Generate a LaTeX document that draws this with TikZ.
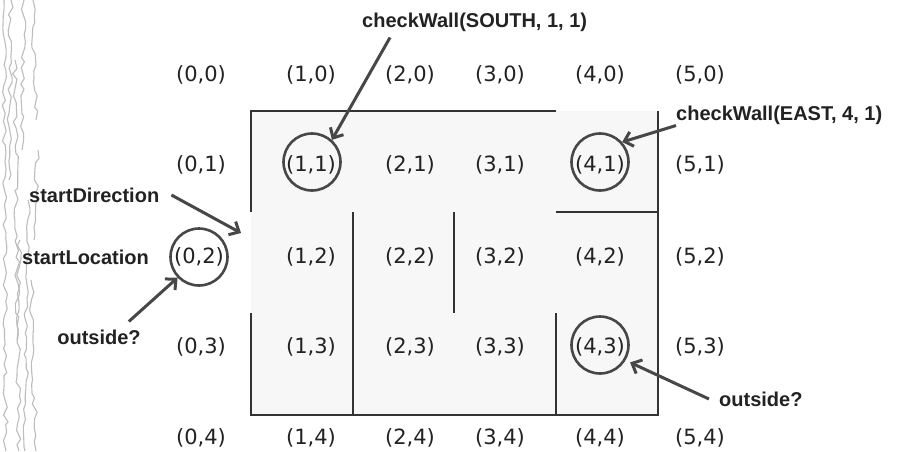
\documentclass[tikz,border=0pt]{standalone}
\usepackage{fontspec}
\setmainfont{DejaVu Sans}
\newfontfamily\notefont{Liberation Sans}
\usepackage{tikz}
\usetikzlibrary{arrows.meta,decorations.pathmorphing}

\definecolor{wallgray}{HTML}{333333}
\definecolor{markgray}{HTML}{474747}
\definecolor{textgray}{HTML}{222222}
\definecolor{floorgray}{HTML}{F7F7F7}
\definecolor{scratchgray}{HTML}{BDBDBD}

\tikzset{
  cell/.style={font=\fontsize{21}{24}\selectfont, text=textgray, inner sep=0pt},
  ring/.style={draw=markgray, line width=2.6pt, circle, minimum size=57pt, inner sep=0pt},
  note/.style={font=\notefont\bfseries\fontsize{20}{24}\selectfont, text=textgray, inner sep=0pt},
  wall/.style={draw=wallgray, line width=1.5pt},
  pointer/.style={draw=markgray, line width=3pt, -{Straight Barb[length=8pt,width=15pt]}},
  scratch/.style={draw=scratchgray, line width=1.1pt, decorate,
    decoration={random steps, segment length=7pt, amplitude=2.5pt}}
}

\begin{document}
\begin{tikzpicture}[x=1pt,y=-1pt]
      \useasboundingbox[fill=white] (0,0) rectangle (907,451);
      \pgfmathsetseed{11}

      % worn strip on the left edge
      \draw[scratch] (4,0) -- (6,451);
      \draw[scratch] (11,0) -- (9,180);
      \draw[scratch] (15,60) -- (19,451);
      \draw[scratch] (24,0) -- (22,150);
      \draw[scratch] (28,200) -- (25,451);
      \draw[scratch] (33,0) -- (36,120);
      \draw[scratch] (38,150) -- (34,240);
      \draw[scratch] (31,280) -- (36,451);
      \draw[scratch] (20,240) -- (17,340);

      % floor of the maze
      \fill[floorgray] (251,111) rectangle (658,415);

      % walls
      \draw[wall] (556,111) -- (251,111) -- (251,212);
      \draw[wall] (251,313) -- (251,415) -- (658,415) -- (658,111);
      \draw[wall] (556,212) -- (658,212);
      \draw[wall] (353,212) -- (353,415);
      \draw[wall] (454,212) -- (454,313);
      \draw[wall] (556,313) -- (556,415);

      % row 0
      \node[cell] at (201,75) (n00) {(0,0)};
      \node[cell] at (311,75) (n10) {(1,0)};
      \node[cell] at (410,75) (n20) {(2,0)};
      \node[cell] at (500,75) (n30) {(3,0)};
      \node[cell] at (600,75) (n40) {(4,0)};
      \node[cell] at (700,75) (n50) {(5,0)};
      % row 1
      \node[cell] at (201,165) (n01) {(0,1)};
      \node[cell] at (311,165) (n11) {(1,1)};
      \node[cell] at (410,165) (n21) {(2,1)};
      \node[cell] at (500,165) (n31) {(3,1)};
      \node[cell] at (600,165) (n41) {(4,1)};
      \node[cell] at (700,165) (n51) {(5,1)};
      % row 2
      \node[cell] at (199,257) (n02) {(0,2)};
      \node[cell] at (311,257) (n12) {(1,2)};
      \node[cell] at (410,257) (n22) {(2,2)};
      \node[cell] at (500,257) (n32) {(3,2)};
      \node[cell] at (600,257) (n42) {(4,2)};
      \node[cell] at (700,257) (n52) {(5,2)};
      % row 3
      \node[cell] at (201,347) (n03) {(0,3)};
      \node[cell] at (311,347) (n13) {(1,3)};
      \node[cell] at (410,347) (n23) {(2,3)};
      \node[cell] at (500,347) (n33) {(3,3)};
      \node[cell] at (600,347) (n43) {(4,3)};
      \node[cell] at (700,347) (n53) {(5,3)};
      % row 4
      \node[cell] at (201,438) (n04) {(0,4)};
      \node[cell] at (311,438) (n14) {(1,4)};
      \node[cell] at (410,438) (n24) {(2,4)};
      \node[cell] at (500,438) (n34) {(3,4)};
      \node[cell] at (600,438) (n44) {(4,4)};
      \node[cell] at (700,438) (n54) {(5,4)};

      % circled cells
      \node[ring] at (312,162) (ring11) {};
      \node[ring] at (600,162) (ring41) {};
      \node[ring] at (199,257) (ring02) {};
      \node[ring] at (600,345) (ring43) {};

      % call-outs
      \node[note, anchor=west] at (362,22) (southcall) {checkWall(SOUTH, 1, 1)};
      \node[note, anchor=west] at (676,115) (eastcall) {checkWall(EAST, 4, 1)};
      \node[note, anchor=west] at (29,195) (dircall) {startDirection};
      \node[note, anchor=west] at (22,257) (loccall) {startLocation};
      \node[note] at (99,337) (outleft) {outside?};
      \node[note, anchor=west] at (719,399) (outright) {outside?};
      \coordinate (doorway) at (241,233);

      \draw[pointer] ([xshift=28pt,yshift=-6pt]southcall.south west) -- (ring11.48);
      \draw[pointer] ([yshift=-1pt]eastcall.south west) -- (ring41.42);
      \draw[pointer] ([xshift=12pt]dircall.east) -- (doorway);
      \draw[pointer] ([xshift=-12pt,yshift=8pt]outleft.north east) -- (ring02.224);
      \draw[pointer, shorten >=5pt] ([xshift=-10pt]outright.west) -- (ring43.-31);
    \end{tikzpicture}
\end{document}
